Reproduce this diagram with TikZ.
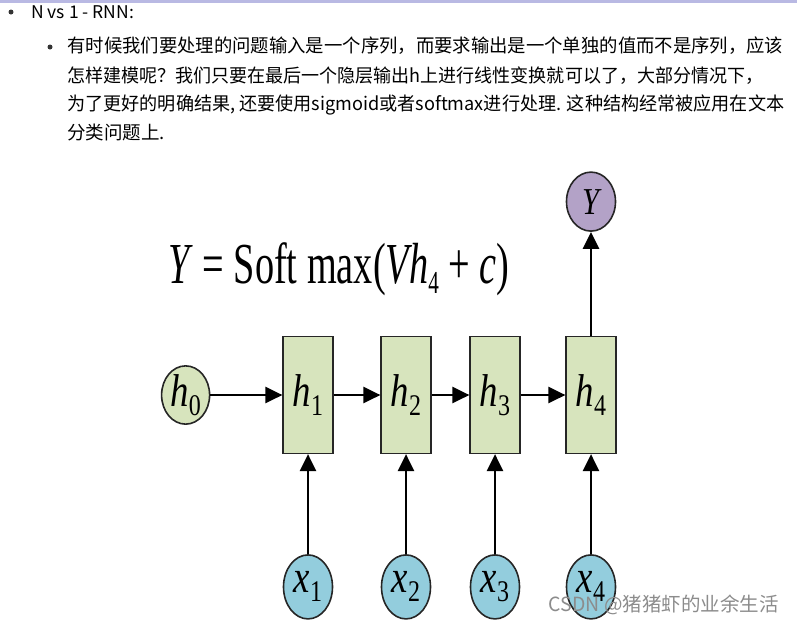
\documentclass[tikz,border=0pt]{standalone}
\usepackage{fontspec}
\setmainfont{Noto Sans CJK SC}
\newfontfamily\tnr{Liberation Serif}
\usepackage{tikz}
\usetikzlibrary{shapes.geometric,positioning,arrows.meta}

\definecolor{cellgreen}{HTML}{D7E4BD}
\definecolor{inblue}{HTML}{93CDDD}
\definecolor{outpurple}{HTML}{B3A2C7}
\definecolor{barlav}{HTML}{B9B9E3}
\newcommand{\lbl}[2]{\scalebox{0.8}[1]{{\itshape #1}\raisebox{-9pt}{\fontsize{30}{30}\selectfont #2}}}
\newcommand{\fitline}[2]{\resizebox{#1}{\height}{#2}}

\begin{document}
\begin{tikzpicture}[x=1pt,y=-1pt,
cell/.style={draw=black!85,line width=1.2pt,fill=cellgreen,minimum width=50pt,minimum height=117pt,inner sep=0pt,font=\tnr\fontsize{46}{46}\selectfont},
state/.style={ellipse,draw=black!85,line width=1.6pt,fill=#1,inner sep=0pt,font=\tnr\fontsize{46}{46}\selectfont},
>={Triangle[length=17pt,width=16pt]},line width=2.6pt,
textline/.style={anchor=west,font=\fontsize{18.5}{18.5}\selectfont,inner sep=0pt},
dotmark/.style={circle,fill=black!80,inner sep=0pt,minimum size=5pt}]
\useasboundingbox (0,0) rectangle (797,624);
\fill[barlav] (0,0) rectangle (797,3);

\node [dotmark] (dot1) at (11,12) {};
\node [anchor=west,inner sep=0pt,font=\fontsize{17.5}{17.5}\selectfont] (title) at (30,12) {N vs 1 - RNN:};
\node [dotmark] (dot2) at (50,47) {};
\node [textline] (line1) at (66,46) {\fitline{716pt}{有时候我们要处理的问题输入是一个序列，而要求输出是一个单独的值而不是序列，应该}};
\node [textline] (line2) at (66,76) {\fitline{696pt}{怎样建模呢？我们只要在最后一个隐层输出h上进行线性变换就可以了，大部分情况下，}};
\node [textline] (line3) at (66,105) {\fitline{717pt}{为了更好的明确结果, 还要使用sigmoid或者softmax进行处理. 这种结构经常被应用在文本}};
\node [textline] (line4) at (66,133) {分类问题上.};

\node [anchor=base west,inner sep=0pt,font=\tnr\fontsize{58}{58}\selectfont] (formula) at (167,283)
{\scalebox{0.66}[1]{\itshape Y\/ \upshape= Soft max(\itshape Vh\raisebox{-10pt}{\upshape\fontsize{32}{32}\selectfont 4}\/ \upshape+ \itshape c\/\upshape)}};

\node [cell] (h1) at (308,395) {\lbl{h}{1}};
\node [cell] (h2) at (406,395) {\lbl{h}{2}};
\node [cell] (h3) at (495,395) {\lbl{h}{3}};
\node [cell] (h4) at (591,395) {\lbl{h}{4}};
\node [state=cellgreen,minimum width=48pt,minimum height=56pt] (h0) [left=72pt of h1] {\lbl{h}{0}};
\node [state=outpurple,minimum width=49pt,minimum height=59pt,font=\tnr\fontsize{38}{38}\selectfont] (y) [above=104pt of h4] {\scalebox{0.8}[1]{\itshape Y}};
\node [state=inblue,minimum width=49pt,minimum height=64pt] (x1) [below=100pt of h1] {\lbl{x}{1}};
\node [state=inblue,minimum width=49pt,minimum height=64pt] (x2) [below=100pt of h2] {\lbl{x}{2}};
\node [state=inblue,minimum width=49pt,minimum height=64pt] (x3) [below=100pt of h3] {\lbl{x}{3}};
\node [state=inblue,minimum width=49pt,minimum height=64pt] (x4) [below=100pt of h4] {\lbl{x}{4}};

\draw [->] (h0) -- (h1);
\draw [->] (h1) -- (h2);
\draw [->] (h2) -- (h3);
\draw [->] (h3) -- (h4);
\draw [->] (h4) -- (y);
\draw [->] (x1) -- (h1);
\draw [->] (x2) -- (h2);
\draw [->] (x3) -- (h3);
\draw [->] (x4) -- (h4);

\node [anchor=east,inner sep=0pt,text=black!45,font=\fontsize{19.5}{19.5}\selectfont] (mark) at (780,605) {CSDN @猪猪虾的业余生活};
\end{tikzpicture}
\end{document}
